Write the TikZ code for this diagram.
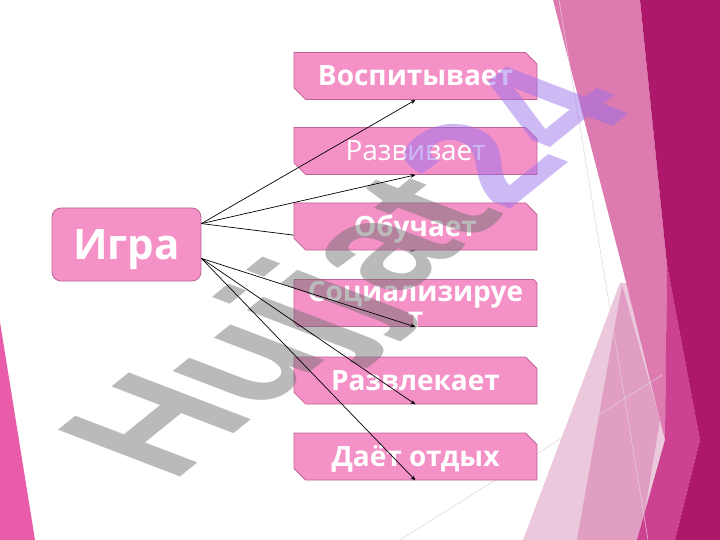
\documentclass[tikz,border=0pt]{standalone}
\usepackage{fontspec}
\setmainfont{Open Sans}
\newfontfamily\wmfont{Liberation Sans}
\usetikzlibrary{shapes.misc,arrows.meta,calc}
\definecolor{boxpink}{RGB}{244,146,200}
\definecolor{boxline}{RGB}{190,100,150}
\definecolor{darkmag}{RGB}{174,24,106}
\definecolor{bandpink}{RGB}{221,122,176}
\definecolor{palepink}{RGB}{236,200,220}
\definecolor{medpink}{RGB}{224,158,195}
\definecolor{hotpink}{RGB}{205,65,145}
\definecolor{leftpink}{RGB}{232,92,170}
\definecolor{faint}{RGB}{228,208,220}
\definecolor{wmgray}{RGB}{110,110,110}
\definecolor{wmpurple}{RGB}{150,110,235}
\pgfdeclarelayer{bg}
\pgfdeclarelayer{low}
\pgfdeclarelayer{wm}
\pgfdeclarelayer{top}
\pgfsetlayers{bg,low,main,wm,top}
\begin{document}
\begin{tikzpicture}[x=1pt,y=-1pt,
  snipbox/.style={chamfered rectangle,
    chamfered rectangle corners={north east,south west},
    chamfered rectangle xsep=8pt,
    fill=boxpink, draw=boxline, line width=0.8pt,
    minimum width=243pt, minimum height=47pt, inner sep=0pt,
    text=white, font=\fontsize{28}{26}\selectfont\bfseries,
    text height=20pt, text depth=0pt},
  mainbox/.style={rectangle, rounded corners=9pt,
    fill=boxpink, draw=boxline, line width=0.8pt,
    minimum width=149pt, minimum height=73pt, inner sep=0pt,
    text=white, font=\fontsize{42}{42}\selectfont\bfseries,
    text height=30pt, text depth=0pt},
  conn/.style={-{Stealth[length=5pt,width=4pt]}, line width=0.7pt, black}]
\useasboundingbox (0,0) rectangle (720,540);
\begin{pgfonlayer}{bg}
  \fill[white] (0,0) rectangle (720,540);
  \fill[leftpink] (0,322) -- (35,540) -- (0,540) -- cycle;
  \fill[palepink] (620,283) -- (523,540) -- (720,540) -- (720,283) -- cycle;
  \fill[medpink] (622,285) -- (577,540) -- (640,540) -- (660,420) -- cycle;
  \fill[bandpink] (553,0) -- (640,0) -- (667,265) -- (665,440) -- (623,270) -- cycle;
  \fill[hotpink] (667,265) -- (700,440) -- (675,540) -- (637,540) -- (665,440) -- cycle;
  \fill[darkmag] (640,0) -- (720,0) -- (720,540) -- (675,540) -- (700,440) -- (667,265) -- cycle;
  \draw[faint, line width=0.5pt] (559,0) -- (648,540);
  \draw[faint, line width=0.5pt] (400,540) -- (662,375);
\end{pgfonlayer}

\node[mainbox] (igra) at (126.5,244.5) {Игра};
\node[snipbox] (b1) at (415.5,76) {Воспитывает};
\node[snipbox, font=\fontsize{28}{26}\selectfont] (b2) at (415.5,151) {Развивает};
\node[snipbox] (b3) at (415.5,226.5) {Обучает};
\node[snipbox, text height=, text depth=] (b4) at (415.5,303)
  {\raisebox{2pt}[0pt][0pt]{\begin{tabular}[t]{@{}c@{}}Социализируе\\т\end{tabular}}};
\node[snipbox] (b5) at (415.5,380.5) {Развлекает};
\node[snipbox] (b6) at (415.5,456.5) {Даёт отдых};

\coordinate (su) at ($(igra.north east)+(0,16)$);
\coordinate (sl) at ($(igra.south east)+(0,-23)$);

\begin{pgfonlayer}{low}
  \draw[conn] (su) -- (b3.south);
\end{pgfonlayer}

\begin{pgfonlayer}{wm}
  \begin{scope}[cm={1.204,0.975,-1.775,0.680,(172,484)}]
    \node[transform shape, anchor=base west, inner sep=0pt, text opacity=0.47,
      font=\wmfont\bfseries\fontsize{100}{100}\selectfont] (wmark) at (0,0)
      {\textcolor{wmgray}{Hujjat}\textcolor{wmpurple}{24}};
  \end{scope}
\end{pgfonlayer}

\begin{pgfonlayer}{top}
  \draw[conn] (su) -- (b1.south);
  \draw[conn] (su) -- (b2.south);
  \draw[conn] (sl) -- (b4.south);
  \draw[conn] (sl) -- (b5.south);
  \draw[conn] (sl) -- (b6.south);
\end{pgfonlayer}
\end{tikzpicture}
\end{document}
